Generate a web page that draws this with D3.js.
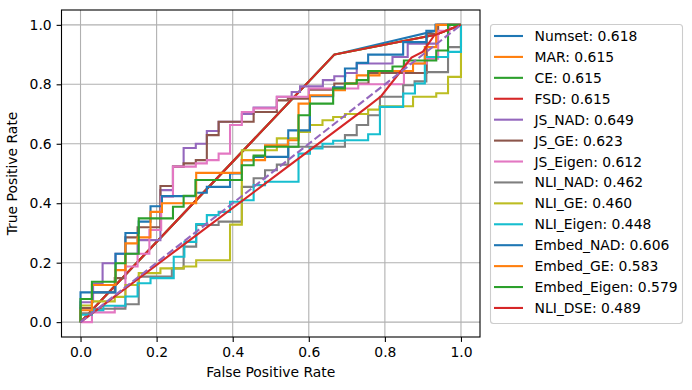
<!DOCTYPE html>
<html>
<head>
<meta charset="utf-8">
<script src="https://cdn.jsdelivr.net/npm/d3@7"></script>
<style>
  body { margin: 0; background: #fff; }
  text { font-family: "DejaVu Sans", sans-serif; }
</style>
</head>
<body>
<div id="wrapper"></div>
<script>
// ROC points, [fpr, tpr]
const numsetRoc = [[0,0],[0.667,0.9],[0.933,0.98],[0.933,1],[1,1]]
const marRoc = [[0,0],[0.667,0.9],[0.933,0.967],[1,1]]
const ceRoc = [[0,0],[0.667,0.9],[0.933,0.967],[1,1]]
const fsdRoc = [[0,0],[0.667,0.9],[0.933,0.967],[1,1]]
const jsNadRoc = [[0,0],[0,0.067],[0.033,0.067],[0.033,0.13],[0.058,0.13],[0.058,0.198],[0.092,0.198],[0.092,0.23],[0.15,0.23],[0.15,0.276],[0.21,0.276],[0.21,0.444],[0.243,0.444],[0.243,0.523],[0.271,0.523],[0.271,0.586],[0.303,0.586],[0.303,0.6],[0.332,0.6],[0.332,0.643],[0.363,0.643],[0.363,0.674],[0.424,0.674],[0.424,0.7],[0.455,0.7],[0.455,0.722],[0.516,0.722],[0.516,0.758],[0.555,0.758],[0.555,0.774],[0.577,0.774],[0.577,0.793],[0.637,0.793],[0.637,0.814],[0.667,0.814],[0.667,0.827],[0.696,0.827],[0.696,0.838],[0.726,0.838],[0.726,0.87],[0.82,0.87],[0.82,0.892],[0.86,0.892],[0.86,0.937],[0.935,0.937],[0.935,1],[1,1]]
const jsGeRoc = [[0,0],[0,0.047],[0.03,0.047],[0.03,0.1],[0.09,0.1],[0.09,0.148],[0.118,0.148],[0.118,0.285],[0.15,0.285],[0.15,0.319],[0.21,0.319],[0.21,0.458],[0.243,0.458],[0.243,0.523],[0.271,0.523],[0.271,0.534],[0.303,0.534],[0.303,0.545],[0.332,0.545],[0.332,0.629],[0.363,0.629],[0.363,0.674],[0.455,0.674],[0.455,0.707],[0.516,0.707],[0.516,0.746],[0.545,0.746],[0.545,0.752],[0.6,0.752],[0.6,0.782],[0.667,0.782],[0.667,0.803],[0.757,0.803],[0.757,0.838],[0.91,0.838],[0.91,0.97],[0.94,0.97],[0.94,1],[1,1]]
const jsEigenRoc = [[0,0],[0.03,0],[0.03,0.033],[0.09,0.033],[0.09,0.052],[0.118,0.052],[0.118,0.187],[0.15,0.187],[0.15,0.23],[0.181,0.23],[0.181,0.31],[0.212,0.31],[0.212,0.422],[0.243,0.422],[0.243,0.523],[0.303,0.523],[0.303,0.534],[0.332,0.534],[0.332,0.545],[0.363,0.545],[0.363,0.567],[0.393,0.567],[0.393,0.663],[0.424,0.663],[0.424,0.707],[0.455,0.707],[0.455,0.719],[0.516,0.719],[0.516,0.758],[0.6,0.758],[0.6,0.786],[0.73,0.786],[0.73,0.8],[0.85,0.8],[0.85,0.87],[0.91,0.87],[0.91,0.886],[0.94,0.886],[0.94,0.98],[0.97,0.98],[0.97,1],[1,1]]
const nliNadRoc = [[0,0],[0,0.03],[0.03,0.03],[0.03,0.045],[0.118,0.045],[0.118,0.06],[0.153,0.06],[0.153,0.153],[0.24,0.153],[0.24,0.181],[0.271,0.181],[0.271,0.254],[0.304,0.254],[0.304,0.327],[0.363,0.327],[0.363,0.338],[0.424,0.338],[0.424,0.455],[0.455,0.455],[0.455,0.484],[0.485,0.484],[0.485,0.511],[0.516,0.511],[0.516,0.53],[0.546,0.53],[0.546,0.59],[0.695,0.59],[0.695,0.629],[0.726,0.629],[0.726,0.663],[0.756,0.663],[0.756,0.696],[0.787,0.696],[0.787,0.758],[0.848,0.758],[0.848,0.797],[0.878,0.797],[0.878,0.81],[0.909,0.81],[0.909,0.841],[0.966,0.841],[0.966,0.925],[1,0.925],[1,1]]
const nliGeRoc = [[0,0],[0,0.056],[0.03,0.056],[0.03,0.07],[0.09,0.07],[0.09,0.085],[0.118,0.085],[0.118,0.125],[0.153,0.125],[0.153,0.165],[0.21,0.165],[0.21,0.181],[0.271,0.181],[0.271,0.187],[0.304,0.187],[0.304,0.208],[0.393,0.208],[0.393,0.328],[0.424,0.328],[0.424,0.578],[0.516,0.578],[0.516,0.618],[0.573,0.618],[0.573,0.64],[0.603,0.64],[0.603,0.663],[0.636,0.663],[0.636,0.679],[0.664,0.679],[0.664,0.69],[0.695,0.69],[0.695,0.7],[0.756,0.7],[0.756,0.715],[0.786,0.715],[0.786,0.726],[0.874,0.726],[0.874,0.758],[0.935,0.758],[0.935,0.77],[0.966,0.77],[0.966,0.825],[1,0.825],[1,1]]
const nliEigenRoc = [[0,0],[0,0.025],[0.03,0.025],[0.03,0.04],[0.06,0.04],[0.06,0.055],[0.118,0.055],[0.118,0.086],[0.15,0.086],[0.15,0.131],[0.184,0.131],[0.184,0.148],[0.245,0.148],[0.245,0.22],[0.273,0.22],[0.273,0.27],[0.304,0.27],[0.304,0.33],[0.332,0.33],[0.332,0.36],[0.363,0.36],[0.363,0.371],[0.393,0.371],[0.393,0.405],[0.424,0.405],[0.424,0.41],[0.455,0.41],[0.455,0.461],[0.485,0.461],[0.485,0.472],[0.573,0.472],[0.573,0.567],[0.603,0.567],[0.603,0.584],[0.636,0.584],[0.636,0.6],[0.664,0.6],[0.664,0.61],[0.695,0.61],[0.695,0.612],[0.756,0.612],[0.756,0.632],[0.787,0.632],[0.787,0.724],[0.848,0.724],[0.848,0.769],[0.879,0.769],[0.879,0.803],[0.905,0.803],[0.905,0.892],[0.966,0.892],[0.966,0.909],[1,0.909],[1,1]]
const embedNadRoc = [[0,0],[0,0.1],[0.092,0.1],[0.092,0.23],[0.118,0.23],[0.118,0.3],[0.153,0.3],[0.153,0.338],[0.184,0.338],[0.184,0.39],[0.214,0.39],[0.214,0.424],[0.303,0.424],[0.303,0.435],[0.332,0.435],[0.332,0.455],[0.393,0.455],[0.393,0.5],[0.424,0.5],[0.424,0.545],[0.455,0.545],[0.455,0.556],[0.546,0.556],[0.546,0.645],[0.603,0.645],[0.603,0.76],[0.664,0.76],[0.664,0.79],[0.695,0.79],[0.695,0.853],[0.726,0.853],[0.726,0.872],[0.756,0.872],[0.756,0.9],[0.848,0.9],[0.848,0.942],[0.909,0.942],[0.909,0.98],[0.935,0.98],[0.935,1],[1,1]]
const embedGeRoc = [[0,0],[0,0.04],[0.03,0.04],[0.03,0.125],[0.092,0.125],[0.092,0.175],[0.118,0.175],[0.118,0.265],[0.15,0.265],[0.15,0.285],[0.184,0.285],[0.184,0.371],[0.214,0.371],[0.214,0.4],[0.304,0.4],[0.304,0.502],[0.424,0.502],[0.424,0.545],[0.485,0.545],[0.485,0.595],[0.545,0.595],[0.545,0.612],[0.573,0.612],[0.573,0.735],[0.603,0.735],[0.603,0.763],[0.664,0.763],[0.664,0.78],[0.695,0.78],[0.695,0.803],[0.726,0.803],[0.726,0.83],[0.786,0.83],[0.786,0.845],[0.874,0.845],[0.874,0.87],[0.905,0.87],[0.905,0.925],[0.935,0.925],[0.935,1],[1,1]]
const embedEigenRoc = [[0,0],[0,0.078],[0.03,0.078],[0.03,0.136],[0.092,0.136],[0.092,0.198],[0.118,0.198],[0.118,0.23],[0.153,0.23],[0.153,0.349],[0.243,0.349],[0.243,0.388],[0.271,0.388],[0.271,0.425],[0.302,0.425],[0.302,0.478],[0.424,0.478],[0.424,0.528],[0.455,0.528],[0.455,0.56],[0.485,0.56],[0.485,0.59],[0.573,0.59],[0.573,0.696],[0.603,0.696],[0.603,0.735],[0.664,0.735],[0.664,0.786],[0.695,0.786],[0.695,0.803],[0.726,0.803],[0.726,0.814],[0.756,0.814],[0.756,0.845],[0.82,0.845],[0.82,0.86],[0.85,0.86],[0.85,0.88],[0.935,0.88],[0.935,0.914],[0.966,0.914],[0.966,1],[1,1]]
const nliDseRoc = [[0,0],[0.26,0.25],[0.5,0.48],[0.75,0.72],[0.79,0.76],[0.87,0.89],[0.9,0.91],[0.93,0.965],[1,1]]
const chanceLine = [[0,0],[1,1]]

const seriesNames = ["Numset", "MAR", "CE", "FSD", "JS_NAD", "JS_GE", "JS_Eigen",
  "NLI_NAD", "NLI_GE", "NLI_Eigen", "Embed_NAD", "Embed_GE", "Embed_Eigen", "NLI_DSE"]
const aucValues = [0.618, 0.615, 0.615, 0.615, 0.649, 0.623, 0.612,
  0.462, 0.460, 0.448, 0.606, 0.583, 0.579, 0.489]
const seriesPoints = [numsetRoc, marRoc, ceRoc, fsdRoc, jsNadRoc, jsGeRoc, jsEigenRoc,
  nliNadRoc, nliGeRoc, nliEigenRoc, embedNadRoc, embedGeRoc, embedEigenRoc, nliDseRoc]
const tickValues = [0, 0.2, 0.4, 0.6, 0.8, 1.0]

// matplotlib tab10 cycle
const palette = ["#1f77b4", "#ff7f0e", "#2ca02c", "#d62728", "#9467bd",
  "#8c564b", "#e377c2", "#7f7f7f", "#bcbd22", "#17becf"]

const dimensions = {
  width: 692,
  height: 390,
  margin: { top: 10, right: 212, bottom: 53, left: 61.5 },
}
dimensions.boundedWidth = dimensions.width - dimensions.margin.left - dimensions.margin.right
dimensions.boundedHeight = dimensions.height - dimensions.margin.top - dimensions.margin.bottom

const wrapper = d3.select("#wrapper")
  .append("svg")
  .attr("width", dimensions.width)
  .attr("height", dimensions.height)

const bounds = wrapper.append("g")
  .attr("transform", `translate(${dimensions.margin.left},${dimensions.margin.top})`)

const xScale = d3.scaleLinear()
  .domain([-0.05, 1.05])
  .range([0, dimensions.boundedWidth])
const yScale = d3.scaleLinear()
  .domain([-0.05, 1.05])
  .range([dimensions.boundedHeight, 0])

// grid
const grid = bounds.append("g")
grid.selectAll(".gx").data(tickValues).join("line")
  .attr("x1", d => xScale(d)).attr("x2", d => xScale(d))
  .attr("y1", 0).attr("y2", dimensions.boundedHeight)
  .attr("stroke", "#b0b0b0").attr("stroke-width", 1.1)
grid.selectAll(".gy").data(tickValues).join("line")
  .attr("y1", d => yScale(d)).attr("y2", d => yScale(d))
  .attr("x1", 0).attr("x2", dimensions.boundedWidth)
  .attr("stroke", "#b0b0b0").attr("stroke-width", 1.1)

// curves
const lineGenerator = d3.line()
  .x(d => xScale(d[0]))
  .y(d => yScale(d[1]))

const plotArea = bounds.append("g")
seriesPoints.forEach((pts, i) => {
  plotArea.append("path")
    .attr("d", lineGenerator(pts))
    .attr("fill", "none")
    .attr("stroke", palette[i % 10])
    .attr("stroke-width", 2.1)
    .attr("stroke-linejoin", "miter")
})
plotArea.append("path")
  .attr("d", lineGenerator(chanceLine))
  .attr("fill", "none")
  .attr("stroke", palette[seriesPoints.length % 10])
  .attr("stroke-width", 2.1)
  .attr("stroke-dasharray", "7.7 3.3")

// axes
const xAxis = bounds.append("g")
  .attr("transform", `translate(0,${dimensions.boundedHeight})`)
  .call(d3.axisBottom(xScale).tickValues(tickValues).tickFormat(d3.format(".1f"))
    .tickSizeInner(4.9).tickSizeOuter(0).tickPadding(4.9))
const yAxis = bounds.append("g")
  .call(d3.axisLeft(yScale).tickValues(tickValues).tickFormat(d3.format(".1f"))
    .tickSizeInner(4.9).tickSizeOuter(0).tickPadding(4.9))
;[xAxis, yAxis].forEach(ax => {
  ax.select(".domain").remove()
  ax.selectAll(".tick line").attr("stroke", "#000").attr("stroke-width", 1.1)
  ax.selectAll(".tick text")
    .attr("fill", "#000")
    .style("font-size", "13.9px")
    .style("font-family", "DejaVu Sans, sans-serif")
})

// frame
bounds.append("rect")
  .attr("width", dimensions.boundedWidth)
  .attr("height", dimensions.boundedHeight)
  .attr("fill", "none")
  .attr("stroke", "#000")
  .attr("stroke-width", 1.1)

// labels
bounds.append("text")
  .attr("x", dimensions.boundedWidth / 2)
  .attr("y", dimensions.boundedHeight + 40)
  .attr("text-anchor", "middle")
  .style("font-size", "13.9px")
  .text("False Positive Rate")
bounds.append("text")
  .attr("transform", `translate(${-45},${dimensions.boundedHeight / 2}) rotate(-90)`)
  .attr("text-anchor", "middle")
  .style("font-size", "13.9px")
  .text("True Positive Rate")

// legend
const legend = wrapper.append("g")
legend.append("rect")
  .attr("x", 490.5).attr("y", 24.5)
  .attr("width", 192).attr("height", 299)
  .attr("rx", 3)
  .attr("fill", "#fff").attr("fill-opacity", 0.8)
  .attr("stroke", "#cccccc").attr("stroke-width", 1.1)
const rows = legend.selectAll(".row")
  .data(seriesNames)
  .join("g")
  .attr("transform", (d, i) => `translate(494,${36 + i * 20.92})`)
rows.append("line")
  .attr("x1", 0).attr("x2", 29)
  .attr("stroke", (d, i) => palette[i % 10])
  .attr("stroke-width", 2.1)
rows.append("text")
  .attr("x", 40.5)
  .attr("dy", "0.36em")
  .style("font-size", "13.9px")
  .text((d, i) => `${d}: ${aucValues[i].toFixed(3)}`)
</script>
</body>
</html>
